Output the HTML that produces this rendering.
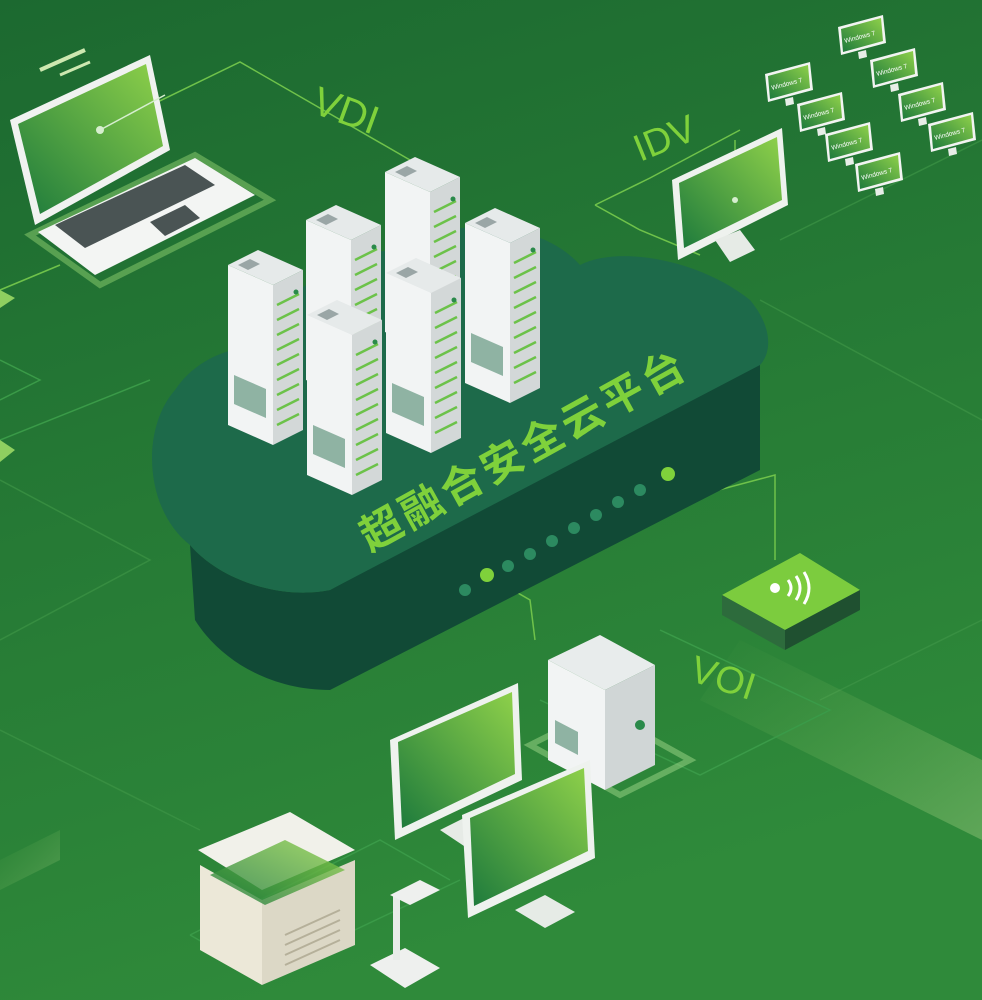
<!DOCTYPE html>
<html><head><meta charset="utf-8"><style>
html,body{margin:0;padding:0;width:982px;height:1000px;overflow:hidden;background:#2a7d37}
svg{display:block}
text{font-family:"Liberation Sans","Noto Sans CJK SC",sans-serif}
</style></head><body>
<svg width="982" height="1000" viewBox="0 0 982 1000" xmlns="http://www.w3.org/2000/svg">
<defs>
<linearGradient id="bg" x1="0" y1="0" x2="0.3" y2="1">
<stop offset="0" stop-color="#1c6930"/><stop offset="1" stop-color="#2f8a3a"/></linearGradient>
<linearGradient id="scr" x1="0" y1="1" x2="1" y2="0">
<stop offset="0" stop-color="#1d7a3c"/><stop offset="1" stop-color="#8fd14a"/></linearGradient>
<linearGradient id="beam" x1="0" y1="0" x2="1" y2="1">
<stop offset="0" stop-color="#8fd05a" stop-opacity="0"/><stop offset="1" stop-color="#cfe8a0" stop-opacity="0.6"/></linearGradient>
<g id="srv">
<polygon points="0,15 45,35 45,195 0,175" fill="#f2f4f4"/>
<polygon points="45,35 75,20 75,180 45,195" fill="#d3d8d8"/>
<polygon points="0,15 30,0 75,20 45,35" fill="#e6eaea"/>
<polygon points="10,15 22,9 32,14 20,20" fill="#9aa6a6"/>
<polygon points="6,125 38,139 38,168 6,154" fill="#8fb3a3"/>
<g stroke="#6cc24a" stroke-width="2.5">
<line x1="49" y1="55" x2="71" y2="44"/><line x1="49" y1="70" x2="71" y2="59"/><line x1="49" y1="85" x2="71" y2="74"/><line x1="49" y1="100" x2="71" y2="89"/><line x1="49" y1="115" x2="71" y2="104"/><line x1="49" y1="130" x2="71" y2="119"/><line x1="49" y1="145" x2="71" y2="134"/><line x1="49" y1="160" x2="71" y2="149"/><line x1="49" y1="175" x2="71" y2="164"/>
</g>
<circle cx="68" cy="42" r="2.5" fill="#2a8a4a"/>
</g>
<g id="win">
<polygon points="0,12 45,0 48,28 3,40" fill="#f2f4f2"/>
<polygon points="3,14 43,3 45,26 5,37" fill="url(#scr)"/>
<polygon points="20,37 28,35 29,42 21,44" fill="#e8eee8"/>
<text x="7" y="28" font-size="6.5" fill="#fff" transform="rotate(-15 7 28)">Windows 7</text>
</g>
</defs>
<rect width="982" height="1000" fill="url(#bg)"/>
<g fill="none" stroke="#3d9446" stroke-width="1.5" opacity="0.7">
<path d="M0,480 L150,560 L0,640"/>
<path d="M780,240 L982,140"/>
<path d="M760,300 L982,420"/>
<path d="M0,730 L200,830"/>
<path d="M820,700 L982,620"/>
</g>
<polygon points="740,640 982,760 982,840 700,700" fill="url(#beam)" opacity="0.5"/>
<polygon points="0,860 60,830 60,860 0,890" fill="url(#beam)" opacity="0.4"/>
<g fill="none" stroke="#6fc24a" stroke-width="1.5">
<path d="M100,130 L240,62 L410,160"/>
<path d="M595,205 L650,178 L740,130"/>
<path d="M595,205 L640,230 L700,255"/>
<path d="M735,140 L735,200"/>
<path d="M668,478 L700,495 L775,475 L775,560"/>
<path d="M487,575 L530,600 L535,640"/>
<path d="M0,290 L60,265"/>
</g>
<g fill="none" stroke="#3a9a48" stroke-width="1.5">
<path d="M540,700 L700,775 L830,710 L660,630"/>
<path d="M190,935 L380,840 L450,880"/>
<path d="M190,935 L260,975 L460,880"/>
<path d="M0,360 L40,380 L0,400"/>
<path d="M0,440 L150,380"/>
</g>
<path d="M190,545 L195,620 C220,660 270,690 330,690 L760,470 L760,355 L330,590 C280,600 220,580 190,545 Z" fill="#114a36"/>
<path d="M190,545 C145,510 140,430 175,390 C195,360 230,345 270,345 C280,290 340,250 400,250 C450,215 540,220 580,265 C620,245 700,260 750,300 C775,330 770,355 760,365 L330,590 C280,600 220,580 190,545 Z" fill="#1d6a4a"/>
<g fill="#2c8a60">
<circle cx="465" cy="590" r="6"/><circle cx="508" cy="566" r="6"/><circle cx="530" cy="554" r="6"/><circle cx="552" cy="541" r="6"/><circle cx="574" cy="528" r="6"/><circle cx="596" cy="515" r="6"/><circle cx="618" cy="502" r="6"/><circle cx="640" cy="490" r="6"/>
</g>
<circle cx="487" cy="575" r="7" fill="#7fd13b"/><circle cx="668" cy="474" r="7" fill="#7fd13b"/>
<text x="0" y="0" font-size="42" font-weight="bold" fill="#7fd13b" transform="translate(370,552) rotate(-29)" letter-spacing="4">超融合安全云平台</text>
<use href="#srv" x="385" y="157"/>
<use href="#srv" x="306" y="205"/>
<use href="#srv" x="465" y="208"/>
<use href="#srv" x="228" y="250"/>
<use href="#srv" x="386" y="258"/>
<use href="#srv" x="307" y="300"/>
<polygon points="10,120 150,55 170,150 35,225" fill="#f0f2f0"/>
<polygon points="18,124 146,64 163,146 40,214" fill="url(#scr)"/>
<polygon points="30,235 195,155 270,200 100,285" fill="none" stroke="#8fcf70" stroke-width="6" opacity="0.5"/>
<polygon points="38,232 195,158 255,195 95,275" fill="#f3f5f3"/>
<polygon points="55,225 185,165 215,185 85,248" fill="#4a5454"/>
<polygon points="150,222 185,205 200,218 165,236" fill="#4a5454"/>
<line x1="40" y1="70" x2="85" y2="50" stroke="#cde8b0" stroke-width="4"/>
<line x1="60" y1="75" x2="90" y2="62" stroke="#cde8b0" stroke-width="3"/>
<circle cx="100" cy="130" r="4" fill="#d6eecf"/>
<line x1="100" y1="130" x2="165" y2="95" stroke="#d6eecf" stroke-width="1.5"/>
<polygon points="0,290 15,298 0,308" fill="#8fcf60"/>
<polygon points="0,440 15,450 0,462" fill="#8fcf60"/>
<polygon points="672,180 782,128 788,205 678,260" fill="#eef2ee"/>
<polygon points="679,183 777,137 782,200 684,248" fill="url(#scr)"/>
<polygon points="715,240 740,230 755,250 730,262" fill="#e6ebe6"/>
<circle cx="735" cy="200" r="3" fill="#d6eecf"/>
<use href="#win" x="765" y="62"/>
<use href="#win" x="838" y="15"/>
<use href="#win" x="870" y="48"/>
<use href="#win" x="797" y="92"/>
<use href="#win" x="898" y="82"/>
<use href="#win" x="825" y="122"/>
<use href="#win" x="928" y="112"/>
<use href="#win" x="855" y="152"/>
<text x="310" y="112" font-size="40" fill="#7fd13b" transform="rotate(20 310 112)">VDI</text>
<text x="640" y="162" font-size="38" fill="#7fd13b" transform="rotate(-22 640 162)">IDV</text>
<text x="688" y="680" font-size="38" fill="#7fd13b" transform="rotate(18 688 680)">VOI</text>
<polygon points="722,595 800,553 860,590 785,630" fill="#7ccc3e"/>
<polygon points="722,595 785,630 785,650 722,615" fill="#2d6b3c"/>
<polygon points="785,630 860,590 860,610 785,650" fill="#1f5030"/>
<circle cx="775" cy="588" r="5" fill="#fff"/>
<path d="M788,580 q6,8 0,16 M796,576 q8,12 0,24 M804,572 q10,16 0,32" fill="none" stroke="#fff" stroke-width="3"/>
<polygon points="530,745 600,710 690,760 620,795" fill="none" stroke="#9fd78a" stroke-width="6" opacity="0.5"/>
<polygon points="548,660 600,635 655,665 605,690" fill="#e8ecec"/>
<polygon points="548,660 605,690 605,790 548,760" fill="#f2f4f4"/>
<polygon points="605,690 655,665 655,765 605,790" fill="#d0d6d6"/>
<polygon points="555,720 578,732 578,755 555,743" fill="#8fb3a3"/>
<circle cx="640" cy="725" r="5" fill="#2a8a4a"/>
<polygon points="390,740 518,683 522,780 395,840" fill="#eef2ee"/>
<polygon points="398,742 512,692 515,774 402,828" fill="url(#scr)"/>
<polygon points="440,830 470,815 500,835 470,850" fill="#e6ebe6"/>
<polygon points="462,815 590,760 595,858 468,918" fill="#eef2ee"/>
<polygon points="470,818 584,768 588,851 474,906" fill="url(#scr)"/>
<polygon points="515,910 545,895 575,912 545,928" fill="#e6ebe6"/>
<polygon points="198,850 290,812 355,850 262,890" fill="#f1f1ea"/>
<polygon points="200,865 262,900 262,985 200,950" fill="#ece8d8"/>
<polygon points="262,900 355,860 355,945 262,985" fill="#dcd8c6"/>
<polygon points="210,875 285,840 345,870 265,905" fill="url(#scr)" opacity="0.8"/>
<g stroke="#b5b09a" stroke-width="2"><line x1="285" y1="935" x2="340" y2="910"/><line x1="285" y1="945" x2="340" y2="920"/><line x1="285" y1="955" x2="340" y2="930"/><line x1="285" y1="965" x2="340" y2="940"/></g>
<polygon points="370,965 405,948 440,968 405,988" fill="#eef0ee"/>
<rect x="393" y="895" width="7" height="65" fill="#e8ece8"/>
<polygon points="390,895 420,880 440,890 410,905" fill="#eef0ee"/>
</svg>
</body></html>
